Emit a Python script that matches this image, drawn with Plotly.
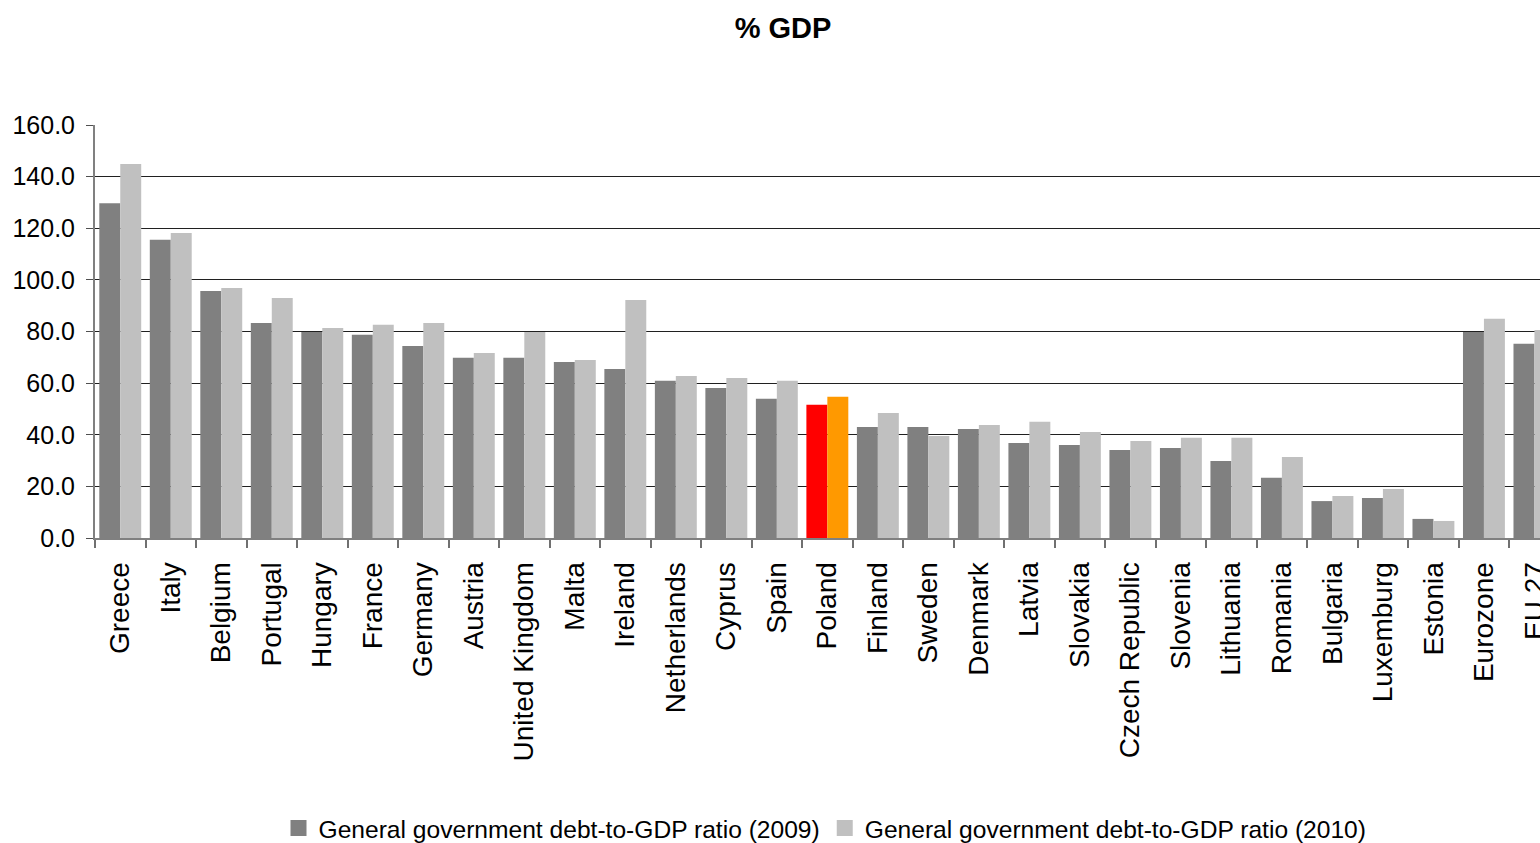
import plotly.graph_objects as go

countries = ["Greece", "Italy", "Belgium", "Portugal", "Hungary", "France", "Germany",
             "Austria", "United Kingdom", "Malta", "Ireland", "Netherlands", "Cyprus",
             "Spain", "Poland", "Finland", "Sweden", "Denmark", "Latvia", "Slovakia",
             "Czech Republic", "Slovenia", "Lithuania", "Romania", "Bulgaria",
             "Luxemburg", "Estonia", "Eurozone", "EU 27"]

debt_2009 = [129.7, 115.5, 95.7, 83.3, 79.8, 78.7, 74.4, 69.8, 69.8, 68.2, 65.5, 60.9,
             58.1, 53.9, 51.6, 43.0, 43.0, 42.2, 36.8, 36.0, 34.1, 34.9, 29.8, 23.3,
             14.3, 15.5, 7.4, 79.8, 75.3]

debt_2010 = [144.9, 118.2, 96.9, 93.0, 81.4, 82.6, 83.3, 71.7, 79.8, 69.0, 92.2, 62.8,
             62.0, 60.9, 54.7, 48.4, 39.5, 43.8, 45.0, 41.1, 37.6, 38.8, 38.8, 31.4,
             16.3, 19.0, 6.6, 84.9, 80.6]

name_2009 = "General government debt-to-GDP ratio (2009)"
name_2010 = "General government debt-to-GDP ratio (2010)"
highlight = "Poland"
color_2009, color_2010 = "#808080", "#C0C0C0"

c09 = ["#FF0000" if c == highlight else color_2009 for c in countries]
c10 = ["#FF9900" if c == highlight else color_2010 for c in countries]

fig = go.Figure()
fig.add_trace(go.Bar(x=countries, y=debt_2009, name=name_2009, showlegend=False,
                     marker=dict(color=c09, line=dict(width=0))))
fig.add_trace(go.Bar(x=countries, y=debt_2010, name=name_2010, showlegend=False,
                     marker=dict(color=c10, line=dict(width=0))))
# legend entries (square swatches)
for nm, col in [(name_2009, color_2009), (name_2010, color_2010)]:
    fig.add_trace(go.Scatter(x=[None], y=[None], mode="markers", name=nm,
                             marker=dict(symbol="square", size=17, color=col)))

fig.update_layout(
    width=1540, height=843,
    margin=dict(l=95, r=0, t=125, b=305, autoexpand=False),
    paper_bgcolor="white", plot_bgcolor="white",
    barmode="group", bargap=0.17, bargroupgap=0,
    title=dict(text="<b>% GDP</b>", x=783/1540, xref="container", xanchor="center",
               y=1-28/843, yref="container", yanchor="middle",
               font=dict(family="Liberation Sans, Arial", size=29, color="black")),
    font=dict(family="Liberation Sans, Arial", color="black"),
    showlegend=True,
    legend=dict(orientation="h", x=825/1540, xref="container", xanchor="center",
                y=1-828/843, yref="container", yanchor="middle",
                font=dict(family="Liberation Sans, Arial", size=24.6, color="black"),
                itemsizing="trace", itemwidth=30, traceorder="normal",
                bgcolor="rgba(0,0,0,0)"),
    xaxis=dict(type="category", range=[-0.5, 28.11], tickangle=-90, automargin=False,
               tickson="boundaries", ticks="outside", ticklen=8, tickwidth=2,
               tickcolor="#707070", showline=True, linecolor="#808080", linewidth=2,
               showgrid=False, ticklabelstandoff=11,
               tickfont=dict(family="Liberation Sans, Arial", size=28, color="black")),
    yaxis=dict(range=[0, 160], dtick=20, tickformat=".1f", ticks="outside",
               ticklen=7, tickwidth=1, tickcolor="#505050", showline=True,
               linecolor="#808080", linewidth=2, showgrid=True, gridcolor="#202020",
               gridwidth=1, zeroline=False, automargin=False, ticklabelstandoff=6,
               tickfont=dict(family="Liberation Sans, Arial", size=25, color="black")),
)

fig.write_html("out.html")
